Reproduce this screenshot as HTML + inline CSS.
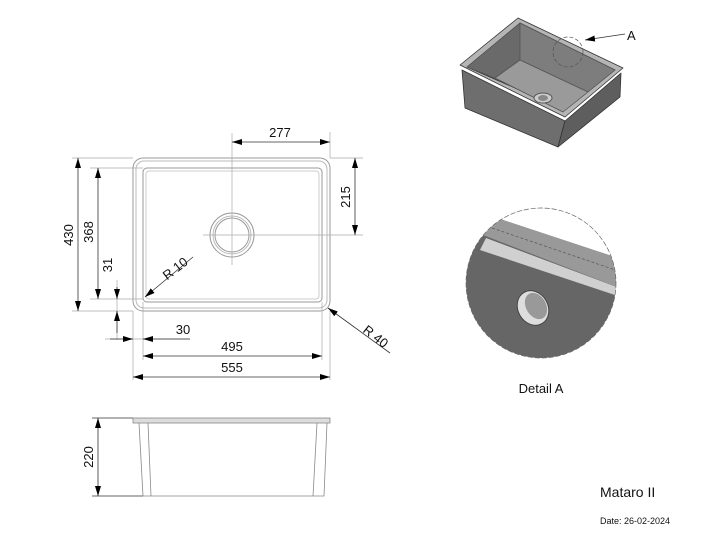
<!DOCTYPE html>
<html><head><style>body{margin:0;background:#fff}svg{display:block}text{font-family:"Liberation Sans",sans-serif;fill:#111}</style></head><body>
<svg width="710" height="546" viewBox="0 0 710 546" xmlns="http://www.w3.org/2000/svg">
<defs>
<marker id="a" viewBox="0 0 10 6" refX="10" refY="3" markerWidth="10" markerHeight="6" orient="auto-start-reverse" markerUnits="userSpaceOnUse"><path d="M0,0L10,3L0,6z" fill="#000"/></marker>
<clipPath id="dc"><circle cx="541" cy="283" r="75"/></clipPath>
</defs>
<g fill="none" stroke="#999" stroke-width="1">
<rect x="133" y="158" width="197" height="153" rx="10"/>
<rect x="136" y="161" width="191" height="147" rx="8" stroke="#bbb"/>
<rect x="143" y="168" width="179" height="134" rx="4"/>
<rect x="146" y="171" width="173" height="128" rx="3" stroke="#ccc"/>
<circle cx="232" cy="235" r="22"/><circle cx="232" cy="235" r="19" stroke="#bbb"/><circle cx="232" cy="235" r="17"/>
</g>
<g stroke="#aaa" stroke-width="0.7" fill="none">
<path d="M232 133V265M203 235H363"/>
<path d="M330 132V158M330 158H363M72 158H133M72 311H133M90 168H143M90 299H143M330 311V380M133 311V380M143 302V360M322 302V360M117 280V340M105 339H190"/>
</g>
<g stroke="#333" stroke-width="0.8" fill="none">
<path d="M232 142H330" marker-end="url(#a)" marker-start="url(#a)"/>
<path d="M355 158V235" marker-end="url(#a)" marker-start="url(#a)"/>
<path d="M78 158V311" marker-end="url(#a)" marker-start="url(#a)"/>
<path d="M98 168V299" marker-end="url(#a)" marker-start="url(#a)"/>
<path d="M117 287V299" marker-end="url(#a)"/>
<path d="M117 333V311" marker-end="url(#a)"/>
<path d="M110 339H133" marker-end="url(#a)"/>
<path d="M190 339H143" marker-end="url(#a)"/>
<path d="M143 356H322" marker-end="url(#a)" marker-start="url(#a)"/>
<path d="M133 377H330" marker-end="url(#a)" marker-start="url(#a)"/>
<path d="M193 257L145 297" marker-end="url(#a)"/>
<path d="M390 353L328 308" marker-end="url(#a)"/>
<path d="M98 418V496" marker-end="url(#a)" marker-start="url(#a)"/>
<path d="M92 418H133M92 496H143"/>
</g>
<g font-size="13">
<text x="280" y="137" text-anchor="middle">277</text>
<text transform="translate(350,197) rotate(-90)" text-anchor="middle">215</text>
<text transform="translate(73,235) rotate(-90)" text-anchor="middle">430</text>
<text transform="translate(93,232) rotate(-90)" text-anchor="middle">368</text>
<text transform="translate(112,265) rotate(-90)" text-anchor="middle">31</text>
<text transform="translate(178,272) rotate(-38)" text-anchor="middle">R  10</text>
<text transform="translate(373,340) rotate(38)" text-anchor="middle">R  40</text>
<text x="183" y="334" text-anchor="middle">30</text>
<text x="232" y="351" text-anchor="middle">495</text>
<text x="232" y="372" text-anchor="middle">555</text>
<text transform="translate(93,457) rotate(-90)" text-anchor="middle">220</text>
</g>
<g fill="none" stroke="#888" stroke-width="0.8">
<rect x="133" y="418" width="197" height="5" fill="#ddd"/>
<path d="M139 423L143 496H324L327 423M148 423L151 496M317 423L313 496M143 496H324"/>
</g>
<!-- iso -->
<g stroke="#333" stroke-width="0.8" stroke-linejoin="round">
<path d="M462 70L565 121L558 147L465 108Z" fill="#6e6e6e"/>
<path d="M565 121L621 73L620 97L558 147Z" fill="#5e5e5e"/>
<path d="M460 65L518 18L623 68L565 117Z" fill="#b5b5b5"/>
<path d="M467 67L520 23L615 70L565 110Z" fill="#777"/>
<path d="M520 23L520 60L495 78L467 67Z" fill="#6a6a6a" stroke="#555"/>
<path d="M520 23L615 70L588 92L520 60Z" fill="#7d7d7d" stroke="#555"/>
<path d="M495 78L520 60L588 92L563 112Z" fill="#9a9a9a" stroke="#555"/>
</g>
<ellipse cx="543" cy="98" rx="9" ry="5" fill="#ccc" stroke="#555"/>
<ellipse cx="543" cy="98" rx="5" ry="3" fill="#888"/>
<circle cx="568" cy="52" r="15" fill="none" stroke="#555" stroke-width="0.7" stroke-dasharray="4 2"/>
<path d="M625 34L585 40" stroke="#333" stroke-width="0.8" marker-end="url(#a)" fill="none"/>
<text x="627" y="40" font-size="13">A</text>
<!-- detail -->
<g clip-path="url(#dc)">
<rect x="460" y="200" width="170" height="170" fill="#666"/>
<path d="M460 200H630V262L497 218Z" fill="#fff"/>
<path d="M497 218L630 262V292L483 235Z" fill="#999"/>
<path d="M486 238L630 292V300L480 250Z" fill="#d0d0d0"/>
<path d="M492 228L630 275" stroke="#555" stroke-dasharray="3 2" stroke-width="0.7"/>
</g>
<circle cx="541" cy="283" r="75" fill="none" stroke="#666" stroke-width="0.7" stroke-dasharray="5 2"/>
<ellipse cx="533" cy="308" rx="15" ry="18" transform="rotate(-30 533 308)" fill="#ddd" stroke="#444"/>
<ellipse cx="536" cy="306" rx="10" ry="14" transform="rotate(-30 536 306)" fill="#999"/>
<text x="541" y="393" font-size="13" text-anchor="middle">Detail A</text>
<text x="600" y="497" font-size="14">Mataro II</text>
<text x="600" y="524" font-size="9">Date: 26-02-2024</text>
</svg>
</body></html>
